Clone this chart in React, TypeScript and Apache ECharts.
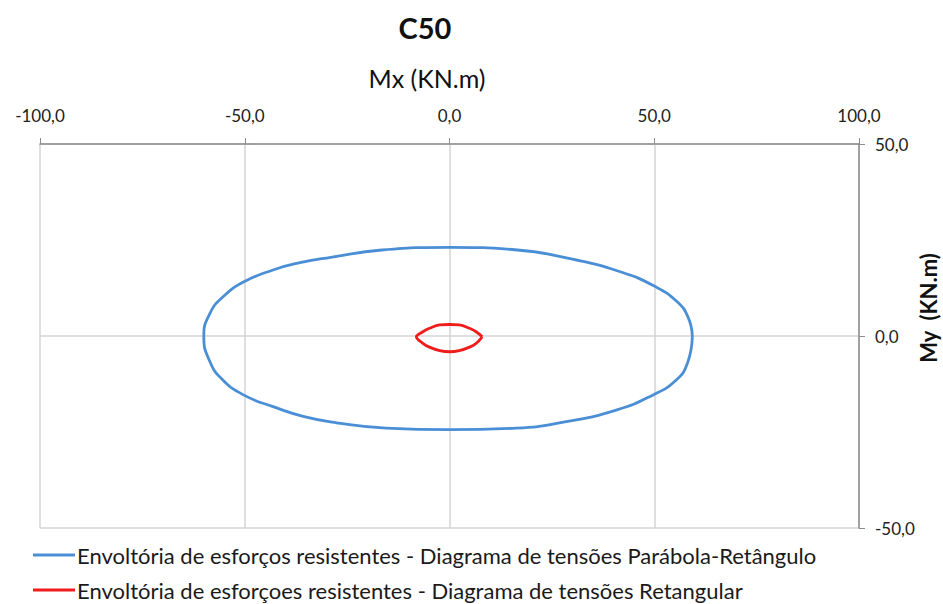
import React, { useEffect, useRef } from "react";
import * as echarts from "echarts";

const chartTitle = "C50";
const xAxisName = "Mx (KN.m)";
const yAxisName = "My  (KN.m)";
const seriesNames = [
  "Envoltória de esforços resistentes - Diagrama de tensões Parábola-Retângulo",
  "Envoltória de esforçoes resistentes - Diagrama de tensões Retangular",
];

// Parábola-Retângulo envelope (Mx, My)
const blueMx = [59.3, 58.3, 55.6, 50.0, 41.5, 30.0, 16.5, 0, -16.5, -29.0, -36.5, -43.1, -50.2, -55.3, -58.5, -60.0, -58.5, -55.3, -50.2, -43.1, -35.5, -27.6, -15.5, 0, 16.3, 28.5, 40.7, 49.6, 55.3, 58.1, 59.3];
const blueMy = [0, 4.8, 8.9, 13.0, 16.8, 20.0, 22.4, 23.1, 22.4, 20.5, 19.1, 17.2, 14.1, 10.2, 5.9, 0, -6.7, -11.5, -15.4, -18.4, -21.0, -22.6, -24.0, -24.4, -24.0, -22.3, -19.3, -15.4, -11.5, -7.1, 0];

// Retangular envelope (Mx, My)
const redMx = [8.0, 6.5, 4.9, 2.4, 0, -2.4, -4.9, -6.5, -8.1, -6.5, -4.9, -2.4, 0, 2.4, 4.9, 6.5, 8.0];
const redMy = [-0.2, 1.1, 2.0, 2.9, 3.0, 2.9, 2.0, 1.1, -0.2, -1.9, -2.9, -3.8, -4.1, -3.8, -2.9, -1.9, -0.2];

const xMin = -100, xMax = 100, xStep = 50;
const yMin = -50, yMax = 50, yStep = 50;

const FONT = "Lato, 'DejaVu Sans', sans-serif";
const fmt = (v: number) => v.toFixed(1).replace(".", ",");

const legendBase = {
  orient: "horizontal",
  left: 33,
  icon: "rect",
  itemWidth: 42,
  itemHeight: 3,
  padding: 0,
  textStyle: { fontFamily: FONT, fontSize: 22, color: "#1a1a1a", padding: [0, 0, 0, -3] },
};

export default function App() {
  const ref = useRef<HTMLDivElement>(null);
  useEffect(() => {
    if (!ref.current) return;
    const chart = echarts.init(ref.current, null, { renderer: "svg" });
    const blue = blueMx.map((x, i) => [x, blueMy[i]]);
    const red = redMx.map((x, i) => [x, redMy[i]]);
    chart.setOption({
      animation: false,
      backgroundColor: "#ffffff",
      textStyle: { fontFamily: FONT },
      grid: { left: 40, right: 84, top: 144, bottom: 76, containLabel: false },
      graphic: [
        {
          type: "text",
          x: 425,
          y: 27,
          style: { text: chartTitle, font: `bold 29px ${FONT}`, fill: "#111", align: "center", verticalAlign: "middle" },
        },
        {
          type: "text",
          x: 427,
          y: 78,
          style: { text: xAxisName, font: `25px ${FONT}`, fill: "#111", align: "center", verticalAlign: "middle" },
        },
        {
          type: "text",
          x: 928,
          y: 308,
          rotation: Math.PI / 2,
          style: { text: yAxisName, font: `bold 22px ${FONT}`, fill: "#111", align: "center", verticalAlign: "middle" },
        },
      ],
      legend: [
        { ...legendBase, top: 544, data: [seriesNames[0]] },
        { ...legendBase, top: 579, data: [seriesNames[1]] },
      ],
      xAxis: {
        type: "value",
        position: "top",
        min: xMin,
        max: xMax,
        interval: xStep,
        axisLine: { onZero: false, lineStyle: { color: "#8c8c8c", width: 1.5 } },
        axisTick: { show: true, inside: false, length: 6, lineStyle: { color: "#8c8c8c" } },
        axisLabel: { formatter: fmt, fontSize: 17, color: "#222", margin: 20, fontFamily: FONT },
        splitLine: { show: true, lineStyle: { color: "#d4d4d4", width: 1.5 } },
      },
      yAxis: {
        type: "value",
        position: "right",
        min: yMin,
        max: yMax,
        interval: yStep,
        axisLine: { show: true, onZero: false, lineStyle: { color: "#8c8c8c", width: 1.5 } },
        axisTick: { show: true, inside: false, length: 6, lineStyle: { color: "#8c8c8c" } },
        axisLabel: { formatter: fmt, fontSize: 17, color: "#222", margin: 16, fontFamily: FONT, padding: [6, 0, 0, 0] },
        splitLine: { show: true, lineStyle: { color: "#d4d4d4", width: 1.5 } },
      },
      series: [
        {
          name: seriesNames[0],
          type: "line",
          data: blue,
          showSymbol: false,
          smooth: 0.5,
          lineStyle: { color: "#4a8fd6", width: 2.8 },
          itemStyle: { color: "#4a8fd6" },
        },
        {
          name: seriesNames[1],
          type: "line",
          data: red,
          showSymbol: false,
          smooth: 0.4,
          lineStyle: { color: "#f01c1c", width: 2.8 },
          itemStyle: { color: "#f01c1c" },
        },
      ],
    });
    return () => chart.dispose();
  }, []);
  return <div ref={ref} style={{ position: "fixed", left: 0, top: 0, width: 943, height: 604 }} />;
}
